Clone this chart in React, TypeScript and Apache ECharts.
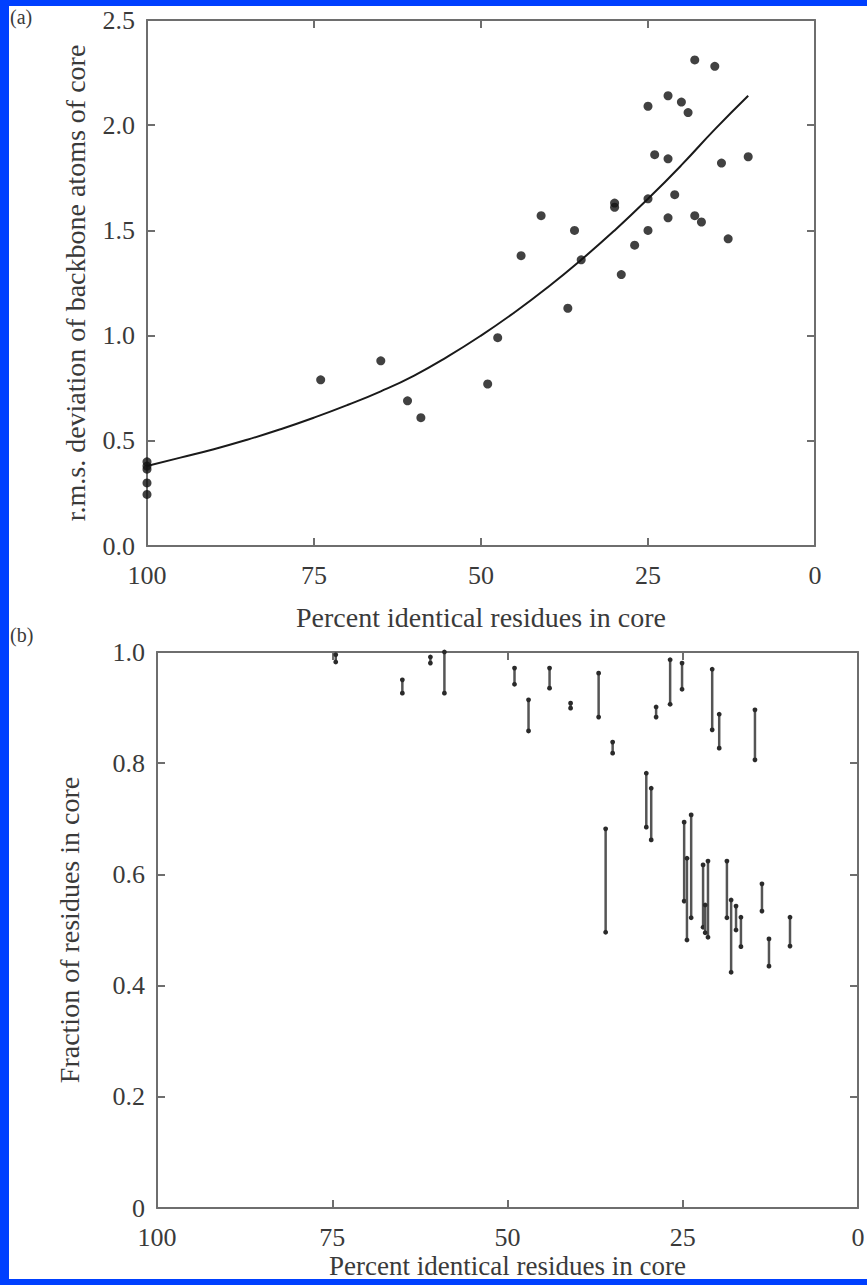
import React, { useEffect, useRef } from "react";
import * as echarts from "echarts";

// Panel (a): r.m.s. deviation vs percent identity
const identityA = [100, 100, 100, 100, 100, 74, 65, 61, 59, 49, 47.5, 44, 41, 37, 36, 35, 30, 30, 29, 27, 25, 25, 25, 24, 22, 22, 22, 21, 20, 19, 18, 18, 17, 15, 14, 13, 10];
const rmsA = [0.4, 0.38, 0.365, 0.3, 0.245, 0.79, 0.88, 0.69, 0.61, 0.77, 0.99, 1.38, 1.57, 1.13, 1.5, 1.36, 1.63, 1.61, 1.29, 1.43, 2.09, 1.65, 1.5, 1.86, 2.14, 1.84, 1.56, 1.67, 2.11, 2.06, 2.31, 1.57, 1.54, 2.28, 1.82, 1.46, 1.85];

// Fitted curve
const curveX = [100, 95, 90, 85, 80, 75, 70, 65, 60, 55, 50, 45, 40, 35, 30, 25, 20, 15, 10];
const curveY = [0.38, 0.42, 0.46, 0.505, 0.555, 0.61, 0.67, 0.735, 0.81, 0.9, 1.0, 1.11, 1.23, 1.36, 1.5, 1.65, 1.81, 1.98, 2.14];

// Panel (b): range of fraction of residues in core
const barX = [74.5, 65, 61, 59, 49, 47, 44, 41, 37, 35, 36, 30.2, 29.5, 28.8, 26.8, 25.1, 20.8, 19.8, 14.7, 24.8, 24.4, 23.8, 22.1, 21.4, 21.8, 18.7, 18.1, 17.4, 16.7, 13.7, 12.7, 9.7];
const barLow = [0.982, 0.926, 0.98, 0.926, 0.942, 0.858, 0.935, 0.899, 0.883, 0.818, 0.496, 0.685, 0.662, 0.883, 0.906, 0.933, 0.86, 0.827, 0.806, 0.552, 0.482, 0.522, 0.505, 0.487, 0.495, 0.522, 0.424, 0.5, 0.47, 0.534, 0.435, 0.471];
const barHigh = [0.995, 0.95, 0.991, 1.0, 0.971, 0.914, 0.971, 0.908, 0.962, 0.838, 0.682, 0.782, 0.755, 0.901, 0.986, 0.98, 0.969, 0.888, 0.896, 0.694, 0.629, 0.707, 0.617, 0.624, 0.545, 0.624, 0.554, 0.543, 0.523, 0.583, 0.484, 0.523];

const xTicks = [100, 75, 50, 25, 0];

const FONT = "'Liberation Serif', 'Times New Roman', serif";
const AXIS_COLOR = "#6e6e6e";
const TEXT_COLOR = "#3a3a3a";

export default function App() {
  const ref = useRef<HTMLDivElement>(null);

  useEffect(() => {
    if (!ref.current) return;
    const chart = echarts.init(ref.current, undefined, { renderer: "svg" });

    const axisLine = { show: true, onZero: false, lineStyle: { color: AXIS_COLOR, width: 2 } };
    const tickIn = { show: true, inside: true, length: 8, lineStyle: { color: AXIS_COLOR, width: 2 } };
    const labelStyle = { color: TEXT_COLOR, fontFamily: FONT, fontSize: 26 };
    const nameStyle = { color: TEXT_COLOR, fontFamily: FONT, fontSize: 28 };

    const xBase = (grid: number, gap: number, nameSize: number) => ({
      type: "value",
      gridIndex: grid,
      min: 0,
      max: 100,
      interval: 25,
      inverse: true,
      position: "bottom",
      axisLine,
      axisTick: tickIn,
      splitLine: { show: false },
      axisLabel: { ...labelStyle, margin: 16, formatter: (v: number) => (xTicks.includes(v) ? String(v) : "") },
      name: "Percent identical residues in core",
      nameLocation: "middle",
      nameGap: gap,
      nameTextStyle: { ...nameStyle, fontSize: nameSize },
    });
    const xTop = (grid: number) => ({
      type: "value",
      gridIndex: grid,
      min: 0,
      max: 100,
      interval: 25,
      inverse: true,
      position: "top",
      axisLine,
      axisTick: tickIn,
      splitLine: { show: false },
      axisLabel: { show: false },
    });
    const yRight = (grid: number, max: number, interval: number) => ({
      type: "value",
      gridIndex: grid,
      min: 0,
      max,
      interval,
      position: "right",
      axisLine,
      axisTick: tickIn,
      splitLine: { show: false },
      axisLabel: { show: false },
    });

    const option = {
      animation: false,
      backgroundColor: "#ffffff",
      grid: [
        { left: 138, top: 14, width: 668, height: 526, outerBoundsMode: "none", containLabel: false },
        { left: 148, top: 646, width: 701, height: 556, outerBoundsMode: "none", containLabel: false },
      ],
      xAxis: [xBase(0, 57, 28), xTop(0), xBase(1, 44, 27), xTop(1)],
      yAxis: [
        {
          type: "value",
          gridIndex: 0,
          min: 0,
          max: 2.5,
          interval: 0.5,
          position: "left",
          axisLine,
          axisTick: tickIn,
          splitLine: { show: false },
          axisLabel: { ...labelStyle, margin: 12, formatter: (v: number) => v.toFixed(1) },
          name: "r.m.s. deviation of backbone atoms of core",
          nameLocation: "middle",
          nameGap: 58,
          nameTextStyle: nameStyle,
        },
        yRight(0, 2.5, 0.5),
        {
          type: "value",
          gridIndex: 1,
          min: 0,
          max: 1,
          interval: 0.2,
          position: "left",
          axisLine,
          axisTick: tickIn,
          splitLine: { show: false },
          axisLabel: { ...labelStyle, margin: 12, formatter: (v: number) => (v === 0 ? "0" : v.toFixed(1)) },
          name: "Fraction of residues in core",
          nameLocation: "middle",
          nameGap: 74,
          nameTextStyle: nameStyle,
        },
        yRight(1, 1, 0.2),
      ],
      graphic: [
        { type: "text", left: 1, top: 1, style: { text: "(a)", fontFamily: FONT, fontSize: 20, fill: TEXT_COLOR } },
        { type: "text", left: 1, top: 619, style: { text: "(b)", fontFamily: FONT, fontSize: 20, fill: TEXT_COLOR } },
      ],
      series: [
        {
          type: "line",
          xAxisIndex: 0,
          yAxisIndex: 0,
          data: curveX.map((x, i) => [x, curveY[i]]),
          smooth: true,
          showSymbol: false,
          lineStyle: { color: "#1a1a1a", width: 2 },
          z: 3,
        },
        {
          type: "scatter",
          xAxisIndex: 0,
          yAxisIndex: 0,
          data: identityA.map((x, i) => [x, rmsA[i]]),
          symbol: "circle",
          symbolSize: 9,
          itemStyle: { color: "#111111" },
          z: 4,
        },
        {
          type: "custom",
          xAxisIndex: 2,
          yAxisIndex: 2,
          data: barX.map((x, i) => [x, barLow[i], barHigh[i]]),
          encode: { x: 0, y: [1, 2] },
          renderItem: (params: any, api: any) => {
            const x = api.value(0);
            const lo = api.value(1);
            const hi = api.value(2);
            const p1 = api.coord([x, hi]);
            const p2 = api.coord([x, lo]);
            return {
              type: "group",
              children: [
                {
                  type: "line",
                  shape: { x1: p1[0], y1: p1[1], x2: p2[0], y2: p2[1] },
                  style: { stroke: "#555555", lineWidth: 2.5 },
                },
                { type: "circle", shape: { cx: p1[0], cy: p1[1], r: 2.4 }, style: { fill: "#2a2a2a" } },
                { type: "circle", shape: { cx: p2[0], cy: p2[1], r: 2.4 }, style: { fill: "#2a2a2a" } },
              ],
            };
          },
          z: 3,
        },
      ],
    };

    chart.setOption(option as any);
    return () => chart.dispose();
  }, []);

  return (
    <div style={{ position: "fixed", left: 0, top: 0, width: 867, height: 1285, background: "#0040ff", overflow: "hidden" }}>
      <div ref={ref} style={{ position: "absolute", left: 9, top: 6, width: 858, height: 1273, background: "#ffffff" }} />
    </div>
  );
}
